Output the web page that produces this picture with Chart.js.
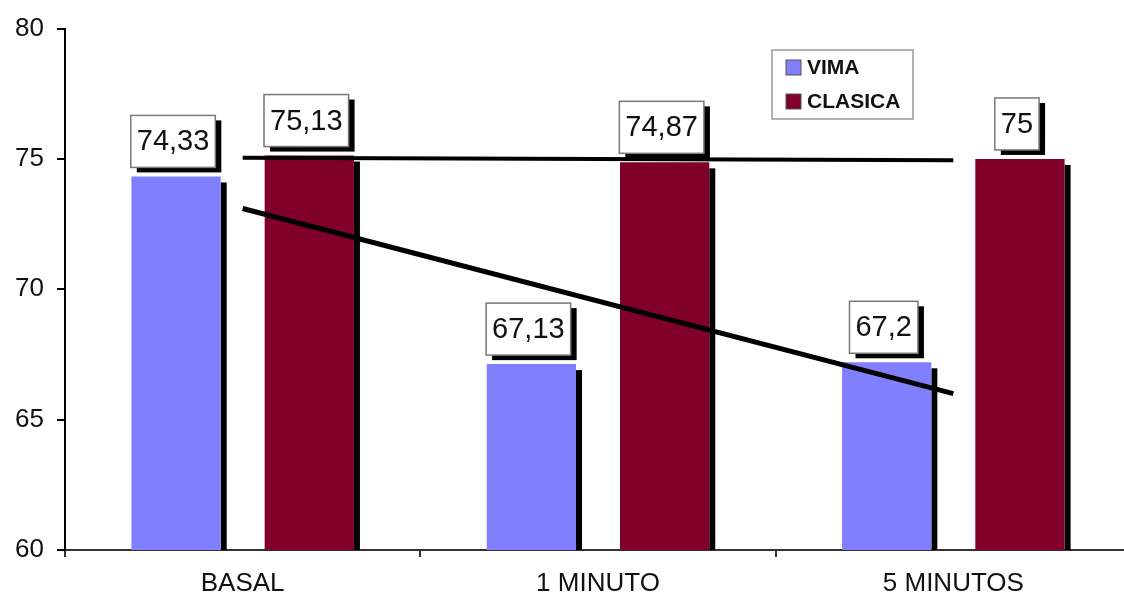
<!DOCTYPE html>
<html>
<head>
<meta charset="utf-8">
<script src="https://cdn.jsdelivr.net/npm/chart.js@4.4.1/dist/chart.umd.min.js"></script>
<style>
html, body { margin: 0; padding: 0; background: #fff; overflow: hidden; }
#wrap { width: 1131px; height: 599px; position: relative; }
</style>
</head>
<body>
<div id="wrap"><canvas id="grafico"></canvas></div>
<script>
// datos
var categorias = ['BASAL', '1 MINUTO', '5 MINUTOS'];
var vima = [74.33, 67.13, 67.2];
var clasica = [75.13, 74.87, 75];
// lineas de tendencia (extremos)
var vimaTendencia = [73.1, null, 66.0];
var clasicaTendencia = [75.05, null, 74.95];
var ticksY = [60, 65, 70, 75, 80];

var FUENTE = "'Liberation Sans', Arial, sans-serif";

// sombra negra a la derecha de cada barra
var sombraBarras = {
    id: 'sombraBarras',
    beforeDatasetsDraw: function (chart) {
        var ctx = chart.ctx;
        var fondo = chart.chartArea.bottom;
        ctx.save();
        ctx.fillStyle = '#000';
        chart.data.datasets.forEach(function (ds, i) {
            if (ds.type !== 'bar') return;
            chart.getDatasetMeta(i).data.forEach(function (bar) {
                var der = bar.x + bar.width / 2;
                ctx.fillRect(der, bar.y + 6, 6, fondo - bar.y - 6);
            });
        });
        ctx.restore();
    }
};

// cajas blancas con el valor encima de cada barra
var etiquetas = {
    id: 'etiquetas',
    afterDatasetsDraw: function (chart) {
        var ctx = chart.ctx;
        ctx.save();
        ctx.font = '29px ' + FUENTE;
        ctx.textAlign = 'center';
        ctx.textBaseline = 'middle';
        chart.data.datasets.forEach(function (ds, i) {
            if (ds.type !== 'bar') return;
            chart.getDatasetMeta(i).data.forEach(function (bar, j) {
                var texto = String(ds.data[j]).replace('.', ',');
                var w = ctx.measureText(texto).width + 12;
                var h = 52;
                var cx = bar.x - 3;
                var bx = cx - w / 2;
                var by = bar.y - 9 - h;
                ctx.fillStyle = '#000';
                ctx.fillRect(bx + 6, by + 5, w, h);
                ctx.fillStyle = '#fff';
                ctx.fillRect(bx, by, w, h);
                ctx.strokeStyle = '#777';
                ctx.lineWidth = 1.5;
                ctx.strokeRect(bx, by, w, h);
                ctx.fillStyle = '#111';
                ctx.fillText(texto, cx, by + h / 2 + 1);
            });
        });
        ctx.restore();
    }
};

// leyenda dentro del area del grafico
var leyenda = {
    id: 'leyenda',
    afterDraw: function (chart) {
        var ctx = chart.ctx;
        var x = 772, y = 50, w = 141, h = 69;
        ctx.save();
        ctx.fillStyle = '#fff';
        ctx.fillRect(x, y, w, h);
        ctx.strokeStyle = '#999';
        ctx.lineWidth = 1.5;
        ctx.strokeRect(x, y, w, h);
        ctx.font = 'bold 21px ' + FUENTE;
        ctx.textBaseline = 'middle';
        var fila = 0;
        chart.data.datasets.forEach(function (ds) {
            if (ds.type !== 'bar') return;
            var cy = y + 17 + fila * 34;
            ctx.fillStyle = ds.backgroundColor;
            ctx.fillRect(x + 14, cy - 7, 15, 15);
            ctx.strokeStyle = '#555';
            ctx.lineWidth = 1;
            ctx.strokeRect(x + 14, cy - 7, 15, 15);
            ctx.fillStyle = '#111';
            ctx.fillText(ds.label, x + 35, cy + 1);
            fila++;
        });
        ctx.restore();
    }
};

var ctx = document.getElementById('grafico').getContext('2d');
new Chart(ctx, {
    data: {
        labels: categorias,
        datasets: [
            {
                type: 'line',
                label: 'Tendencia VIMA',
                data: vimaTendencia,
                borderColor: '#000',
                borderWidth: 5,
                pointRadius: 0,
                spanGaps: true,
                order: 0
            },
            {
                type: 'line',
                label: 'Tendencia CLASICA',
                data: clasicaTendencia,
                borderColor: '#000',
                borderWidth: 4,
                pointRadius: 0,
                spanGaps: true,
                order: 0
            },
            {
                type: 'bar',
                label: 'VIMA',
                data: vima,
                backgroundColor: '#8080ff',
                categoryPercentage: 0.75,
                barPercentage: 0.67,
                order: 1
            },
            {
                type: 'bar',
                label: 'CLASICA',
                data: clasica,
                backgroundColor: '#80002a',
                categoryPercentage: 0.75,
                barPercentage: 0.67,
                order: 1
            }
        ]
    },
    options: {
        responsive: true,
        maintainAspectRatio: false,
        animation: false,
        layout: { padding: { top: 28, right: 0, left: 0, bottom: 0 } },
        plugins: {
            legend: { display: false },
            tooltip: { enabled: false }
        },
        scales: {
            x: {
                offset: true,
                grid: { offset: true, drawOnChartArea: false, drawTicks: true, tickLength: 7, color: '#333', lineWidth: 2 },
                border: { color: '#333', width: 2 },
                ticks: { color: '#111', font: { family: FUENTE, size: 26 }, padding: 11 },
                afterFit: function (scale) { scale.height = 49; }
            },
            y: {
                min: 60,
                max: 80,
                afterBuildTicks: function (scale) {
                    scale.ticks = ticksY.map(function (v) { return { value: v }; });
                },
                grid: { drawOnChartArea: false, drawTicks: true, tickLength: 8, color: '#000', lineWidth: 2 },
                border: { color: '#000', width: 2 },
                ticks: { color: '#111', font: { family: FUENTE, size: 26 }, padding: 13 },
                afterFit: function (scale) { scale.width = 65; }
            }
        }
    },
    plugins: [sombraBarras, etiquetas, leyenda]
});
</script>
</body>
</html>
